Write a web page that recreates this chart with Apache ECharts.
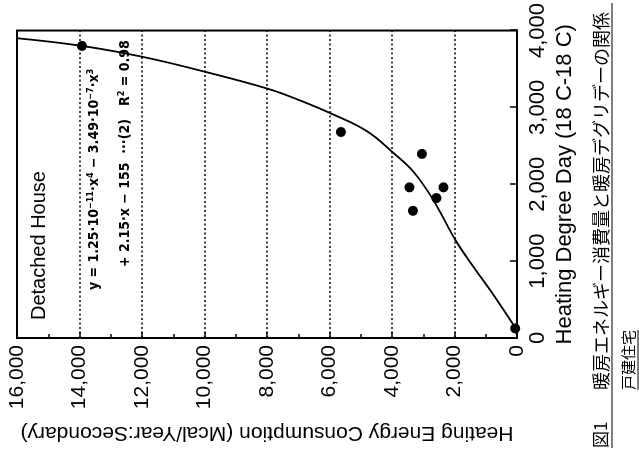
<!DOCTYPE html>
<html>
<head>
<meta charset="utf-8">
<title>Heating Energy Consumption vs Heating Degree Day</title>
<script src="https://cdn.jsdelivr.net/npm/echarts/dist/echarts.min.js"></script>
<style>
  html, body { margin: 0; padding: 0; background: #fff; width: 639px; height: 451px; overflow: hidden; }
  /* The figure is laid out upright (451 x 639) and turned a quarter turn counter-clockwise,
     as it is printed sideways on the page. */
  #chart {
    position: absolute; left: 0; top: 0; width: 451px; height: 639px;
    transform-origin: 0 0; transform: translate(0, 451px) rotate(-90deg);
  }
</style>
</head>
<body>
<div id="chart"></div>
<script>
// Heating degree day axis ticks (x) and energy axis ticks (y)
const hddTicks = [0, 1000, 2000, 3000, 4000];
const energyTicks = [0, 2000, 4000, 6000, 8000, 10000, 12000, 14000, 16000];

// Measured houses: heating degree day and yearly heating energy (Mcal)
const pointHdd    = [3800, 2680, 2395, 1960, 1960, 1820, 1655, 125];
const pointEnergy = [13920, 5630, 3040, 3440, 2350, 2580, 3330, 55];

// Regression curve
const curveHdd    = [125, 170, 560, 925, 1280, 1790, 2160, 2405, 2690, 2915, 3090, 3240, 3460, 3655, 3800, 3900];
const curveEnergy = [55, 110, 750, 1390, 1980, 2670, 3310, 3950, 4800, 5920, 6940, 7950, 9950, 11950, 13920, 16000];

const fontLatin = '"Liberation Sans", Arial, Helvetica, sans-serif';
const fontNarrow = '"Liberation Sans Narrow", "DejaVu Sans Condensed", "Liberation Sans", sans-serif';
const fontCjk = '"Noto Sans CJK JP", "Noto Sans CJK SC", sans-serif';
const fmt = v => v.toLocaleString('en-US');

const chart = echarts.init(document.getElementById('chart'), null, { renderer: 'canvas' });

const supStyle = { fontSize: 9, fontFamily: fontNarrow, fontWeight: 'bold', fill: '#000', verticalAlign: 'top', lineHeight: 16 };

chart.setOption({
  animation: false,
  backgroundColor: '#fff',
  grid: {
    left: 99, right: 29, top: 17, bottom: 122,
    show: true, borderColor: '#000', borderWidth: 2, backgroundColor: 'transparent'
  },
  xAxis: {
    type: 'value',
    min: hddTicks[0], max: hddTicks[hddTicks.length - 1], interval: hddTicks[1] - hddTicks[0],
    name: 'Heating Degree Day (18 C-18 C)',
    nameLocation: 'middle', nameGap: 30,
    nameTextStyle: { fontFamily: fontLatin, fontSize: 22, color: '#000' },
    axisLine: { show: true, onZero: false, lineStyle: { color: '#000', width: 2 } },
    axisTick: { show: true, inside: true, length: 7, lineStyle: { color: '#000', width: 1.5 } },
    axisLabel: { fontFamily: fontLatin, fontSize: 22, color: '#000', margin: 10, formatter: fmt },
    splitLine: { show: false }
  },
  yAxis: {
    type: 'value',
    min: energyTicks[0], max: energyTicks[energyTicks.length - 1], interval: energyTicks[1] - energyTicks[0],
    name: 'Heating Energy Consumption (Mcal/Year:Secondary)',
    nameLocation: 'middle', nameGap: 84, nameRotate: 90,
    nameTextStyle: { fontFamily: fontLatin, fontSize: 21, color: '#000' },
    axisLine: { show: true, onZero: false, lineStyle: { color: '#000', width: 2 } },
    axisTick: { show: true, inside: true, length: 6, lineStyle: { color: '#000', width: 1.5 } },
    minorTick: { show: true, splitNumber: 2, length: 4, lineStyle: { color: '#000', width: 1.5 } },
    axisLabel: { fontFamily: fontLatin, fontSize: 21, color: '#000', margin: 7, formatter: fmt },
    splitLine: { show: true, lineStyle: { color: '#000', width: 1.6, type: [2, 2.5] } }
  },
  series: [
    {
      type: 'line',
      data: curveHdd.map((h, i) => [h, curveEnergy[i]]),
      smooth: 0.4,
      showSymbol: false,
      lineStyle: { color: '#000', width: 1.8 },
      z: 3
    },
    {
      type: 'scatter',
      data: pointHdd.map((h, i) => [h, pointEnergy[i]]),
      symbol: 'circle',
      symbolSize: 10,
      itemStyle: { color: '#000', opacity: 1 },
      z: 4
    }
  ],
  graphic: [
    {
      type: 'text', x: 131, y: 39,
      style: { text: 'Detached House', fontFamily: fontLatin, fontSize: 20, fill: '#000',
               textAlign: 'left', textVerticalAlign: 'middle', align: 'left', verticalAlign: 'middle' }
    },
    {
      type: 'text', x: 161, y: 94,
      style: {
        text: 'y = 1.25·10{s|−11}·x{s|4} − 3.49·10{s|−7}·x{s|3}',
        fontFamily: fontNarrow, fontSize: 14, fontWeight: 'bold', fill: '#000',
        textAlign: 'left', textVerticalAlign: 'middle', align: 'left', verticalAlign: 'middle',
        rich: { s: supStyle }
      }
    },
    {
      type: 'text', x: 184, y: 125,
      style: {
        text: '+ 2.15·x − 155  ···(2)   R{s|2} = 0.98',
        fontFamily: fontNarrow, fontSize: 14, fontWeight: 'bold', fill: '#000',
        textAlign: 'left', textVerticalAlign: 'middle', align: 'left', verticalAlign: 'middle',
        rich: { s: supStyle }
      }
    },
    {
      type: 'text', x: 3, y: 601,
      style: { text: '図1', fontFamily: fontCjk, fontSize: 17, fill: '#000',
               textAlign: 'left', textVerticalAlign: 'middle', align: 'left', verticalAlign: 'middle' }
    },
    {
      type: 'text', x: 61, y: 601,
      style: { text: '暖房エネルギー消費量と暖房デグリデーの関係', fontFamily: fontCjk, fontSize: 18, fill: '#000',
               textAlign: 'left', textVerticalAlign: 'middle', align: 'left', verticalAlign: 'middle' }
    },
    {
      type: 'line', shape: { x1: 3, y1: 612, x2: 448, y2: 612 },
      style: { stroke: '#000', lineWidth: 1.2 }
    },
    {
      type: 'text', x: 61, y: 628,
      style: { text: '戸建住宅', fontFamily: fontCjk, fontSize: 15, fill: '#000',
               textAlign: 'left', textVerticalAlign: 'middle', align: 'left', verticalAlign: 'middle' }
    },
    {
      type: 'line', shape: { x1: 61, y1: 638, x2: 121, y2: 638 },
      style: { stroke: '#000', lineWidth: 1.2 }
    }
  ]
});
</script>
</body>
</html>
